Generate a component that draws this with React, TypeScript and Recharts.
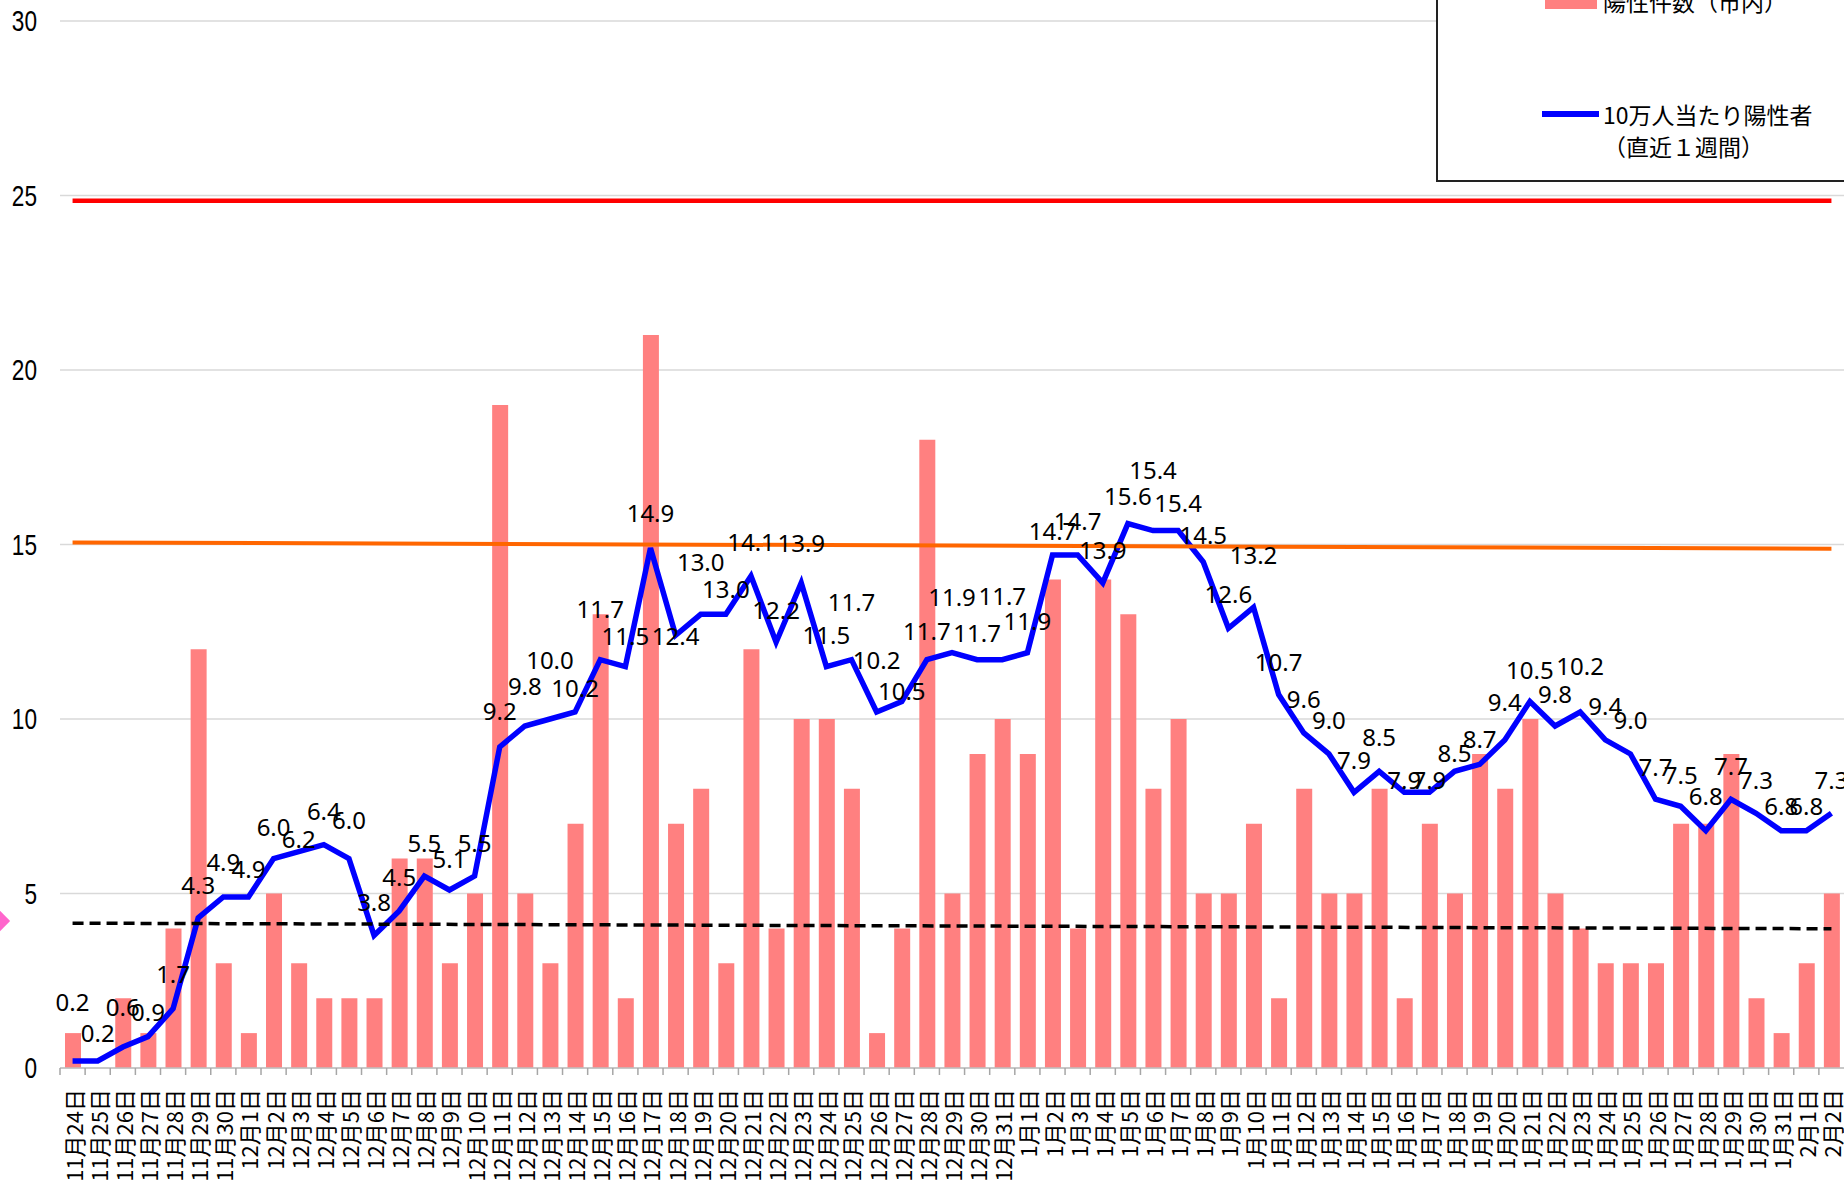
import {
  ComposedChart,
  Bar,
  Line,
  XAxis,
  YAxis,
  CartesianGrid,
  ReferenceLine,
  LabelList,
} from 'recharts';

const dates = [
  '11月24日', '11月25日', '11月26日', '11月27日', '11月28日', '11月29日', '11月30日',
  '12月1日', '12月2日', '12月3日', '12月4日', '12月5日', '12月6日', '12月7日', '12月8日',
  '12月9日', '12月10日', '12月11日', '12月12日', '12月13日', '12月14日', '12月15日',
  '12月16日', '12月17日', '12月18日', '12月19日', '12月20日', '12月21日', '12月22日',
  '12月23日', '12月24日', '12月25日', '12月26日', '12月27日', '12月28日', '12月29日',
  '12月30日', '12月31日',
  '1月1日', '1月2日', '1月3日', '1月4日', '1月5日', '1月6日', '1月7日', '1月8日',
  '1月9日', '1月10日', '1月11日', '1月12日', '1月13日', '1月14日', '1月15日', '1月16日',
  '1月17日', '1月18日', '1月19日', '1月20日', '1月21日', '1月22日', '1月23日', '1月24日',
  '1月25日', '1月26日', '1月27日', '1月28日', '1月29日', '1月30日', '1月31日',
  '2月1日', '2月2日',
];

// 陽性件数（市内）
const cases = [
  1, 0, 2, 1, 4, 12, 3,
  1, 5, 3, 2, 2, 2, 6, 6, 3, 5, 19, 5, 3, 7, 13, 2, 21, 7, 8, 3, 12, 4, 10, 10, 8, 1, 4, 18, 5, 9, 10,
  9, 14, 4, 14, 13, 8, 10, 5, 5, 7, 2, 8, 5, 5, 8, 2, 7, 5, 9, 8, 10, 5, 4, 3, 3, 3, 7, 7, 9, 2, 1,
  3, 5,
];

// 10万人当たり陽性者（直近１週間）
const per100k = [
  0.2, 0.2, 0.6, 0.9, 1.7, 4.3, 4.9,
  4.9, 6.0, 6.2, 6.4, 6.0, 3.8, 4.5, 5.5, 5.1, 5.5, 9.2, 9.8, 10.0, 10.2, 11.7, 11.5, 14.9, 12.4,
  13.0, 13.0, 14.1, 12.2, 13.9, 11.5, 11.7, 10.2, 10.5, 11.7, 11.9, 11.7, 11.7,
  11.9, 14.7, 14.7, 13.9, 15.6, 15.4, 15.4, 14.5, 12.6, 13.2, 10.7, 9.6, 9.0, 7.9, 8.5, 7.9,
  7.9, 8.5, 8.7, 9.4, 10.5, 9.8, 10.2, 9.4, 9.0, 7.7, 7.5, 6.8, 7.7, 7.3, 6.8,
  6.8, 7.3,
];

// how far each value label sits above its point (px), as placed in the original
const labelLift = [
  60, 29, 41, 25, 35, 33, 35,
  28, 32, 13, 34, 39, 34, 34, 34, 32, 34, 36, 40, 60, 25, 51, 31, 35, 0,
  53, 26, 34, 33, 40, 32, 58, 53, 11, 29, 56, 27, 64,
  32, 24, 34, 33, 28, 61, 28, 27, 35, 53, 33, 34, 34, 33, 35, 13,
  13, 19, 26, 38, 32, 32, 47, 34, 34, 33, 32, 35, 34, 34, 25,
  25, 34,
];

const yTicks = [0, 5, 10, 15, 20, 25, 30];

// reference levels (start, end)
const redLevel = [24.85, 24.85];
const orangeLevel = [15.06, 14.88];
const dashedLevel = [4.15, 3.99];

const data = dates.map((date, i) => ({ date, cases: cases[i], rate: per100k[i], lift: labelLift[i] }));

const WIDTH = 1844;
const HEIGHT = 1182;
const Y_AXIS_W = 60;
const STEP = (WIDTH - Y_AXIS_W) / dates.length;

const DateTick = ({ x, y, payload }: any) => (
  <g>
    <line x1={x - STEP / 2} x2={x - STEP / 2} y1={y} y2={y + 7} stroke="#A6A6A6" strokeWidth={1.5} />
    <text
      transform={`translate(${x},${y + 21}) rotate(-90)`}
      textAnchor="end"
      dominantBaseline="central"
      fontSize={22}
      fontFamily="'Noto Sans CJK JP', sans-serif"
      fill="#000"
    >
      {payload.value}
    </text>
  </g>
);

// narrow digits like the original's condensed face
const ValueTick = ({ x, y, payload }: any) => (
  <text
    transform={`translate(${x},${y}) scale(0.78,1)`}
    textAnchor="end"
    dominantBaseline="central"
    fontSize={29}
    fontFamily="'Liberation Sans', sans-serif"
    fill="#000"
  >
    {payload.value}
  </text>
);

const RateLabel = ({ x, y, value, index }: any) => (
  <text
    x={x}
    y={y - labelLift[index]}
    textAnchor="middle"
    dominantBaseline="central"
    fontSize={24}
    fontFamily="'Noto Sans', sans-serif"
    fill="#000"
  >
    {Number(value).toFixed(1)}
  </text>
);

const first = dates[0];
const last = dates[dates.length - 1];

export default function App() {
  return (
    <div style={{ position: 'absolute', left: 0, top: 0, width: WIDTH, height: HEIGHT, overflow: 'hidden', background: '#fff' }}>
      <ComposedChart width={WIDTH} height={HEIGHT} data={data} margin={{ top: 21, right: 0, bottom: 0, left: 0 }}>
        <CartesianGrid vertical={false} stroke="#D9D9D9" strokeWidth={1.5} />
        <XAxis
          dataKey="date"
          interval={0}
          height={114}
          tickLine={false}
          tickSize={0}
          tickMargin={0}
          axisLine={{ stroke: '#BFBFBF', strokeWidth: 1.5 }}
          tick={<DateTick />}
        />
        <YAxis
          domain={[0, 30]}
          ticks={yTicks}
          width={Y_AXIS_W}
          axisLine={false}
          tickLine={false}
          tickSize={0}
          tickMargin={23}
          tick={<ValueTick />}
        />
        <Bar dataKey="cases" fill="#FF8080" barSize={16} isAnimationActive={false} />
        <Line
          type="linear"
          dataKey="rate"
          stroke="#0000FF"
          strokeWidth={5.5}
          dot={false}
          isAnimationActive={false}
        >
          <LabelList dataKey="rate" content={<RateLabel />} />
        </Line>
        <ReferenceLine
          segment={[{ x: first, y: redLevel[0] }, { x: last, y: redLevel[1] }]}
          stroke="#FF0000"
          strokeWidth={4.5}
          ifOverflow="visible"
        />
        <ReferenceLine
          segment={[{ x: first, y: orangeLevel[0] }, { x: last, y: orangeLevel[1] }]}
          stroke="#FF6600"
          strokeWidth={4}
          ifOverflow="visible"
        />
        <ReferenceLine
          segment={[{ x: first, y: dashedLevel[0] }, { x: last, y: dashedLevel[1] }]}
          stroke="#000"
          strokeWidth={3.5}
          strokeDasharray="11 6"
          ifOverflow="visible"
        />
      </ComposedChart>

      {/* legend box, its top runs past the page edge like the original */}
      <div
        style={{
          position: 'absolute',
          left: 1436,
          top: -80,
          width: 420,
          height: 262,
          boxSizing: 'border-box',
          border: '2px solid #222',
          background: '#fff',
          fontFamily: "'Noto Sans CJK JP', sans-serif",
          fontSize: 23,
          color: '#000',
        }}
      >
        <div style={{ position: 'absolute', left: 107, top: 67, width: 52, height: 20, background: '#FF8080' }} />
        <div style={{ position: 'absolute', left: 165, top: 63, lineHeight: '32px', whiteSpace: 'nowrap' }}>陽性件数（市内）</div>
        <div style={{ position: 'absolute', left: 104, top: 189, width: 57, height: 6, background: '#0000FF' }} />
        <div style={{ position: 'absolute', left: 165, top: 176, lineHeight: '32px', whiteSpace: 'nowrap' }}>
          10万人当たり陽性者
          <br />
          （直近１週間）
        </div>
      </div>

      {/* pink marker cut by the left edge */}
      <div
        style={{
          position: 'absolute',
          left: -14,
          top: 911,
          width: 20,
          height: 20,
          background: '#FF66CC',
          transform: 'rotate(45deg)',
        }}
      />
    </div>
  );
}
